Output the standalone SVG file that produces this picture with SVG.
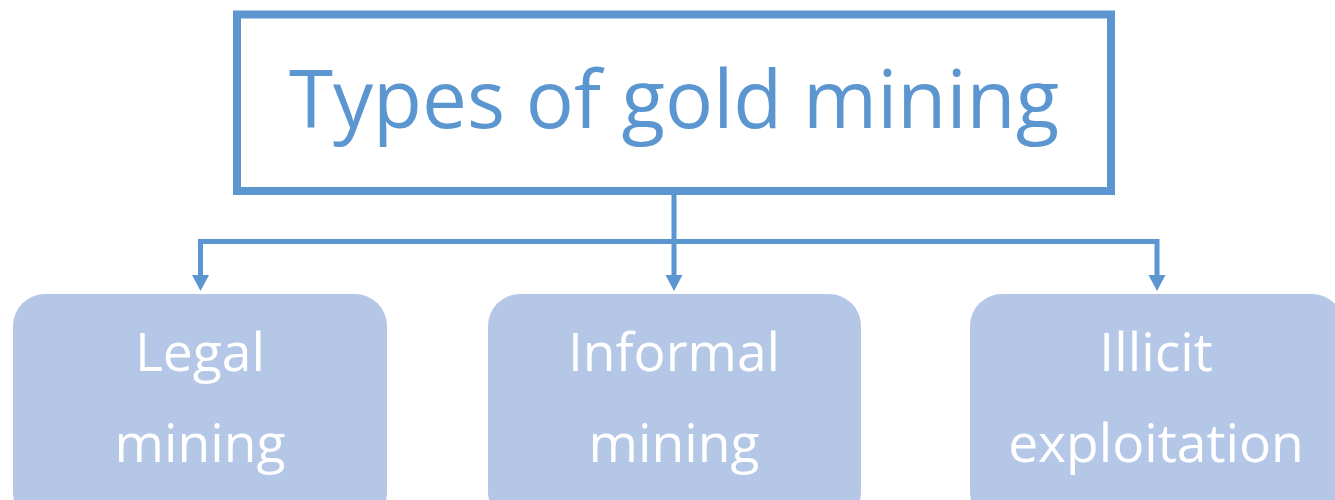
<svg xmlns="http://www.w3.org/2000/svg" width="1335" height="500" viewBox="0 0 1335 500">
<style>
.t{font-family:"Open Sans","Noto Sans",sans-serif;text-anchor:middle}
.title{font-size:80px;fill:#5B96D0}
.lbl{font-size:53.4px;fill:#FFFFFF}
.box{fill:#B4C7E7}
.ln{fill:none;stroke:#5B96D0;stroke-width:5}
.ah{fill:#5B96D0}
</style>
<rect width="1335" height="500" fill="#FFFFFF"/>
<g id="title">
<rect x="237" y="14.5" width="874" height="176.5" fill="#FFFFFF" stroke="#5B96D0" stroke-width="8"/>
<text class="t title" x="674" y="128">Types of gold mining</text>
</g>
<g id="connectors">
<path class="ln" d="M674,195 V241.5 M200.5,241.5 H1157 M200.5,239 V276 M674,241.5 V276 M1157,239 V276"/>
<path class="ah" d="M192,275 H209 L200.5,291 Z"/>
<path class="ah" d="M665.5,275 H682.5 L674,291 Z"/>
<path class="ah" d="M1148.5,275 H1165.5 L1157,291 Z"/>
</g>
<g id="legal">
<rect class="box" x="13" y="294" width="374" height="230" rx="32"/>
<text class="t lbl" x="200" y="371">Legal</text>
<text class="t lbl" x="200" y="462">mining</text>
</g>
<g id="informal">
<rect class="box" x="488" y="294" width="373" height="230" rx="32"/>
<text class="t lbl" x="674" y="371">Informal</text>
<text class="t lbl" x="674" y="462">mining</text>
</g>
<g id="illicit">
<rect class="box" x="970" y="294" width="374" height="230" rx="32"/>
<text class="t lbl" x="1156" y="371">Illicit</text>
<text class="t lbl" x="1156" y="462">exploitation</text>
</g>
</svg>
